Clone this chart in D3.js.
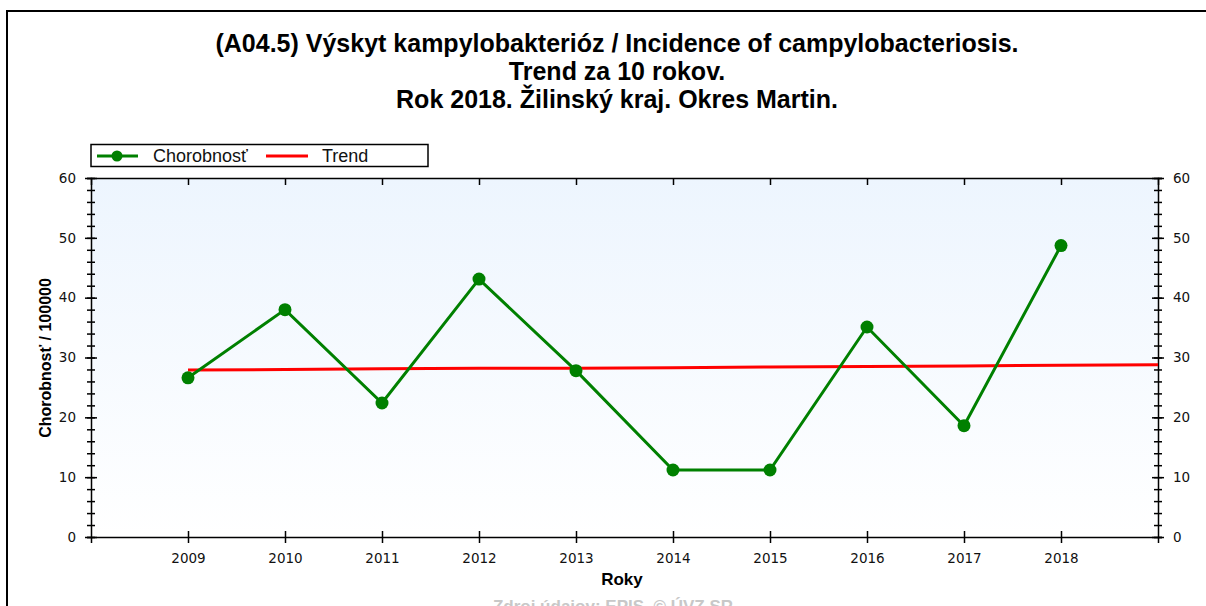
<!DOCTYPE html>
<html>
<head>
<meta charset="utf-8">
<title></title>
<style>
  body { margin: 0; background: #fff; }
  text { font-family: "Liberation Sans", Arial, sans-serif; }
  .tick text { font-family: "DejaVu Sans", Verdana, sans-serif; }
</style>
</head>
<body>
<script src="https://cdn.jsdelivr.net/npm/d3@7"></script>
<script>
// data
var years = [2009, 2010, 2011, 2012, 2013, 2014, 2015, 2016, 2017, 2018];
var chorobnost = [26.6, 38.0, 22.4, 43.1, 27.8, 11.2, 11.2, 35.1, 18.6, 48.7];
var trendYears = [2009, 2010, 2011, 2012, 2013, 2014, 2015, 2016, 2017, 2018, 2019];
var trend = [27.9, 28.0, 28.1, 28.2, 28.2, 28.3, 28.4, 28.5, 28.6, 28.7, 28.8];
var yTicks = [0, 10, 20, 30, 40, 50, 60];
var titleLines = [
  "(A04.5) Výskyt kampylobakterióz / Incidence of campylobacteriosis.",
  "Trend za 10 rokov.",
  "Rok 2018. Žilinský kraj. Okres Martin."
];

var W = 1206, H = 606;
var pLeft = 91, pRight = 1158, pTop = 178, pBottom = 537;

var svg = d3.select("body").append("svg").attr("width", W).attr("height", H);

// outer frame
svg.append("rect").attr("x", 7).attr("y", 11).attr("width", W + 10).attr("height", H + 10)
  .attr("fill", "none").attr("stroke", "#000").attr("stroke-width", 2);

// titel
svg.selectAll("text.title").data(titleLines).enter().append("text")
  .attr("class", "title")
  .attr("x", 617).attr("y", function(d, i) { return 52 + i * 28; })
  .attr("text-anchor", "middle").attr("font-size", 25).attr("font-weight", "bold")
  .text(function(d) { return d; });

var x = d3.scaleLinear().domain([2008, 2019]).range([pLeft, pRight]);
var y = d3.scaleLinear().domain([0, 60]).range([pBottom, pTop]);

// plot background
var grad = svg.append("defs").append("linearGradient").attr("id", "bg")
  .attr("x1", 0).attr("y1", 0).attr("x2", 0).attr("y2", 1);
grad.append("stop").attr("offset", "0%").attr("stop-color", "#edf5fe");
grad.append("stop").attr("offset", "100%").attr("stop-color", "#ffffff");
svg.append("rect").attr("x", pLeft).attr("y", pTop).attr("width", pRight - pLeft).attr("height", pBottom - pTop)
  .attr("fill", "url(#bg)");

// axes
var minor = d3.range(0, 61, 2);
function yAxis(g, orient) {
  var ax = (orient == "left" ? d3.axisLeft(y) : d3.axisRight(y));
  g.call(ax.tickValues(minor).tickSize(4).tickFormat(""));
  g.selectAll(".tick line").attr("x1", orient == "left" ? 4 : -4).attr("x2", orient == "left" ? -4 : 4);
  var ax2 = (orient == "left" ? d3.axisLeft(y) : d3.axisRight(y));
  var g2 = g.append("g").call(ax2.tickValues(yTicks).tickSize(6).tickPadding(9));
  g2.select(".domain").remove();
  g2.selectAll(".tick line").attr("x1", orient == "left" ? 6 : -6).attr("x2", orient == "left" ? -6 : 6);
  g2.selectAll("text").attr("font-size", 13.5).attr("fill", "#111");
}
svg.append("g").attr("transform", "translate(" + pLeft + ",0)").call(yAxis, "left");
svg.append("g").attr("transform", "translate(" + pRight + ",0)").call(yAxis, "right");

var xb = svg.append("g").attr("transform", "translate(0," + pBottom + ")")
  .call(d3.axisBottom(x).tickValues(years).tickFormat(d3.format("d")).tickSize(6).tickPadding(10));
xb.selectAll(".tick line").attr("y1", -6).attr("y2", 6);
xb.selectAll("text").attr("font-size", 13.5).attr("fill", "#111");
svg.append("g").attr("transform", "translate(0," + pTop + ")")
  .call(d3.axisTop(x).tickValues(years).tickFormat("").tickSize(-7));
svg.selectAll(".domain").attr("stroke-width", 1.5);
svg.selectAll(".tick line").attr("stroke-width", 1.5);

// axis titles
svg.append("text").attr("x", 622).attr("y", 585).attr("text-anchor", "middle")
  .attr("font-size", 17).attr("font-weight", "bold").text("Roky");
svg.append("text").attr("transform", "translate(51,358) rotate(-90)").attr("text-anchor", "middle")
  .attr("font-size", 16).attr("font-weight", "bold").text("Chorobnosť / 100000");
svg.append("text").attr("x", 613).attr("y", 612).attr("text-anchor", "middle")
  .attr("font-size", 17).attr("font-weight", "bold").attr("fill", "#c8c8c8").text("Zdroj údajov: EPIS, © ÚVZ SR");

// trend
var line = d3.line().x(function(d) { return x(d[0]); }).y(function(d) { return y(d[1]); });
svg.append("path").datum(d3.zip(trendYears, trend)).attr("d", line)
  .attr("fill", "none").attr("stroke", "#ff0000").attr("stroke-width", 3);

// chorobnost
svg.append("path").datum(d3.zip(years, chorobnost)).attr("d", line)
  .attr("fill", "none").attr("stroke", "#008000").attr("stroke-width", 3);
svg.selectAll("circle.pt").data(d3.zip(years, chorobnost)).enter().append("circle")
  .attr("class", "pt").attr("cx", function(d) { return x(d[0]); }).attr("cy", function(d) { return y(d[1]); })
  .attr("r", 6.5).attr("fill", "#008000");

// legend
var lg = svg.append("g");
lg.append("rect").attr("x", 91).attr("y", 144.5).attr("width", 337).attr("height", 22)
  .attr("fill", "#fff").attr("stroke", "#000").attr("stroke-width", 1.5);
lg.append("line").attr("x1", 97).attr("x2", 138).attr("y1", 156).attr("y2", 156)
  .attr("stroke", "#008000").attr("stroke-width", 3);
lg.append("circle").attr("cx", 117).attr("cy", 156).attr("r", 5.5).attr("fill", "#008000");
lg.append("text").attr("x", 153).attr("y", 162).attr("font-size", 18).attr("fill", "#111").text("Chorobnosť");
lg.append("line").attr("x1", 266).attr("x2", 308).attr("y1", 156).attr("y2", 156)
  .attr("stroke", "#ff0000").attr("stroke-width", 3);
lg.append("text").attr("x", 322).attr("y", 162).attr("font-size", 18).attr("fill", "#111").text("Trend");
</script>
</body>
</html>
